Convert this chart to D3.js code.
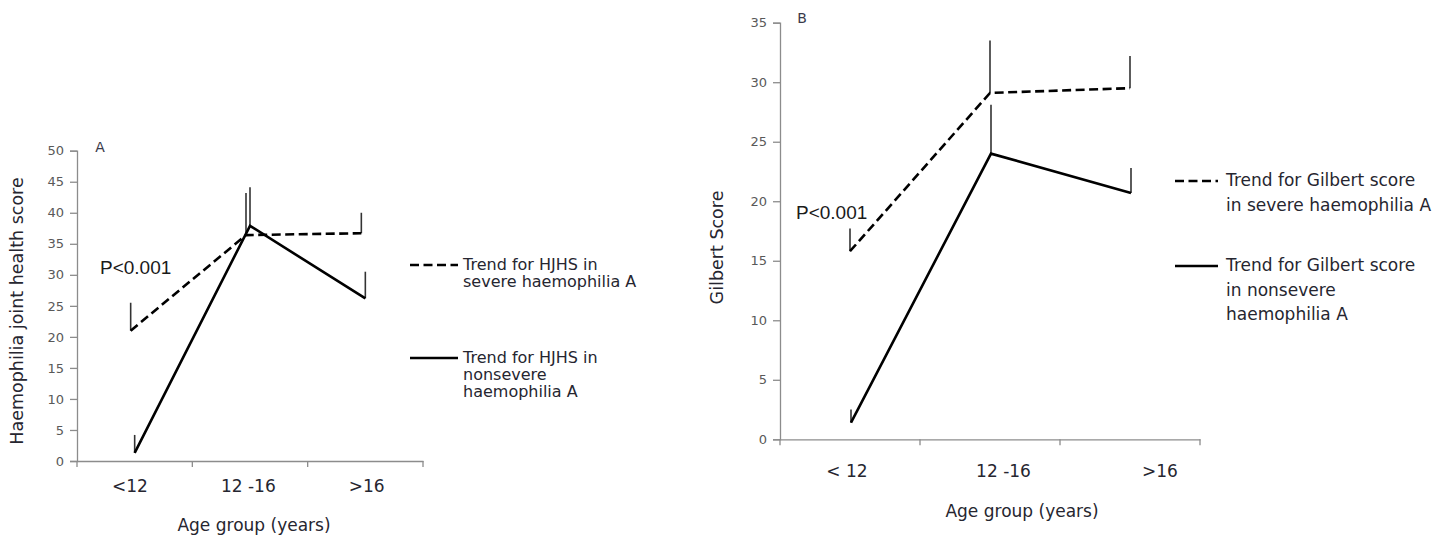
<!DOCTYPE html>
<html>
<head>
<meta charset="utf-8">
<script src="https://cdn.jsdelivr.net/npm/d3@7"></script>
<style>
  html, body { margin: 0; padding: 0; background: #fff; }
  svg { display: block; }
  .tick text { font-family: "DejaVu Sans", sans-serif; }
</style>
</head>
<body>
<svg id="chart" width="1434" height="537"></svg>
<script>
// Age groups shared by both panels
const ageGroups = ["< 12", "12 -16", ">16"];
const tickLabelsA = ["<12", "12 -16", ">16"];
const tickLabelsB = ["< 12", "12 -16", ">16"];

// Panel A: Haemophilia joint health score (mean and upper error)
const hjhsSevere = [21.0, 36.4, 36.7];
const hjhsSevereErr = [4.5, 6.8, 3.3];
const hjhsNonsevere = [1.3, 37.9, 26.2];
const hjhsNonsevereErr = [2.9, 6.2, 4.3];
const hjhsTicks = [0, 5, 10, 15, 20, 25, 30, 35, 40, 45, 50];

// Panel B: Gilbert score (mean and upper error)
const gilbertSevere = [15.8, 29.1, 29.5];
const gilbertSevereErr = [1.9, 4.4, 2.7];
const gilbertNonsevere = [1.4, 24.0, 20.7];
const gilbertNonsevereErr = [1.1, 4.1, 2.1];
const gilbertTicks = [0, 5, 10, 15, 20, 25, 30, 35];

const svg = d3.select("#chart");
const SANS = "'DejaVu Sans', sans-serif";
const ARIAL = "'Liberation Sans', Arial, sans-serif";
const TEXT = "#262630";

function drawPanel(cfg) {
  const g = svg.append("g");
  const x = d3.scaleBand().domain(ageGroups).range([cfg.x0, cfg.x1]);
  const y = d3.scaleLinear().domain([0, cfg.yMax]).range([cfg.y0, cfg.y1]);

  // y axis
  const yAxis = g.append("g")
    .attr("transform", `translate(${cfg.x0},0)`)
    .call(d3.axisLeft(y).tickValues(cfg.yTicks).tickSize(7).tickPadding(6));
  yAxis.select(".domain").attr("stroke", "#8c8c8c").attr("stroke-width", 1.3);
  yAxis.selectAll(".tick line").attr("stroke", "#8c8c8c").attr("stroke-width", 1.3);
  yAxis.selectAll(".tick text").attr("fill", "#595959").attr("font-size", 13);

  // x axis: ticks at category boundaries
  const xAxis = g.append("g")
    .attr("transform", `translate(0,${cfg.y0})`)
    .call(d3.axisBottom(x).tickSize(0).tickFormat(""));
  xAxis.select(".domain").attr("stroke", "#8c8c8c").attr("stroke-width", 1.3);
  const bounds = ageGroups.map(d => x(d)).concat([cfg.x1]);
  xAxis.selectAll("line.bound").data(bounds).join("line")
    .attr("class", "bound")
    .attr("x1", d => d).attr("x2", d => d)
    .attr("y1", 0).attr("y2", 6)
    .attr("stroke", "#8c8c8c").attr("stroke-width", 1.3);

  // category labels
  const lx = d3.scalePoint().domain(ageGroups).range(cfg.labelRange);
  g.selectAll("text.cat").data(ageGroups).join("text")
    .attr("class", "cat")
    .attr("x", d => lx(d))
    .attr("y", cfg.y0 + cfg.catDy)
    .attr("text-anchor", "middle")
    .attr("dominant-baseline", "middle")
    .attr("font-family", SANS).attr("font-size", 17).attr("fill", TEXT)
    .text((d, i) => cfg.tickLabels[i]);

  // axis titles
  g.append("text")
    .attr("x", (cfg.x0 + cfg.x1) / 2 + cfg.xTitleDx)
    .attr("y", cfg.y0 + cfg.xTitleDy)
    .attr("text-anchor", "middle").attr("dominant-baseline", "middle")
    .attr("font-family", SANS).attr("font-size", 17).attr("fill", TEXT)
    .text("Age group (years)");
  g.append("text")
    .attr("transform", `translate(${cfg.yTitleX},${cfg.yTitleY}) rotate(-90)`)
    .attr("text-anchor", "middle").attr("dominant-baseline", "middle")
    .attr("font-family", SANS).attr("font-size", cfg.yTitleSize).attr("fill", TEXT)
    .text(cfg.yTitle);

  // panel letter
  g.append("text")
    .attr("x", cfg.letterX).attr("y", cfg.letterY)
    .attr("text-anchor", "middle").attr("dominant-baseline", "middle")
    .attr("font-family", SANS).attr("font-size", 14).attr("fill", "#3a3a4a")
    .text(cfg.letter);

  // series: dashed severe, solid nonsevere
  cfg.series.forEach(s => {
    const px = d => x(d) + x.bandwidth() / 2 + s.dodge;
    const pts = ageGroups.map((a, i) => [px(a), y(s.values[i])]);
    // upper error bars
    g.selectAll(null).data(ageGroups).join("line")
      .attr("x1", a => px(a)).attr("x2", a => px(a))
      .attr("y1", (a, i) => y(s.values[i]))
      .attr("y2", (a, i) => y(s.values[i] + s.err[i]))
      .attr("stroke", "#333").attr("stroke-width", 1.6);
    g.append("path")
      .attr("d", d3.line()(pts))
      .attr("fill", "none")
      .attr("stroke", "#000")
      .attr("stroke-width", 2.6)
      .attr("stroke-dasharray", s.dashed ? "9,4.5" : null)
      .attr("stroke-linejoin", "miter");
  });

  // significance annotation
  g.append("text")
    .attr("x", cfg.pX).attr("y", cfg.pY)
    .attr("dominant-baseline", "middle")
    .attr("font-family", ARIAL).attr("font-size", 19).attr("fill", "#1a1a1a")
    .text("P<0.001");

  // legend
  const lg = g.append("g");
  cfg.legend.forEach(item => {
    lg.append("line")
      .attr("x1", cfg.legX0).attr("x2", cfg.legX1)
      .attr("y1", item.y).attr("y2", item.y)
      .attr("stroke", "#000").attr("stroke-width", 2.6)
      .attr("stroke-dasharray", item.dashed ? "9,4.5" : null);
    item.lines.forEach((t, k) => {
      lg.append("text")
        .attr("x", cfg.legTextX).attr("y", item.y + k * cfg.legLineH)
        .attr("dominant-baseline", "middle")
        .attr("font-family", SANS).attr("font-size", cfg.legSize).attr("fill", TEXT)
        .text(t);
    });
  });
}

drawPanel({
  x0: 77, x1: 423, y0: 461, y1: 150.7, yMax: 50, yTicks: hjhsTicks,
  tickLabels: tickLabelsA, labelRange: [130, 366.7], catDy: 26, xTitleDx: 4, xTitleDy: 65,
  yTitle: "Haemophilia joint health score", yTitleX: 18, yTitleY: 311, yTitleSize: 17.5,
  letter: "A", letterX: 100, letterY: 148,
  series: [
    { values: hjhsSevere, err: hjhsSevereErr, dashed: true, dodge: -4 },
    { values: hjhsNonsevere, err: hjhsNonsevereErr, dashed: false, dodge: 0 }
  ],
  pX: 100, pY: 269,
  legX0: 410, legX1: 458, legTextX: 463, legLineH: 17, legSize: 16,
  legend: [
    { y: 265, dashed: true, lines: ["Trend for HJHS in", "severe haemophilia A"] },
    { y: 358, dashed: false, lines: ["Trend for HJHS in", "nonsevere", "haemophilia A"] }
  ]
});

drawPanel({
  x0: 780, x1: 1200, y0: 439.3, y1: 22.7, yMax: 35, yTicks: gilbertTicks,
  tickLabels: tickLabelsB, labelRange: [847, 1160], catDy: 32.5, xTitleDx: 32, xTitleDy: 72.5,
  yTitle: "Gilbert Score", yTitleX: 718, yTitleY: 247.5, yTitleSize: 17.5,
  letter: "B", letterX: 802, letterY: 19,
  series: [
    { values: gilbertSevere, err: gilbertSevereErr, dashed: true, dodge: 0 },
    { values: gilbertNonsevere, err: gilbertNonsevereErr, dashed: false, dodge: 1 }
  ],
  pX: 796, pY: 214,
  legX0: 1175, legX1: 1218, legTextX: 1226, legLineH: 24.5, legSize: 17,
  legend: [
    { y: 181, dashed: true, lines: ["Trend for Gilbert score", "in severe haemophilia A"] },
    { y: 266, dashed: false, lines: ["Trend for Gilbert score", "in nonsevere", "haemophilia A"] }
  ]
});
</script>
</body>
</html>
